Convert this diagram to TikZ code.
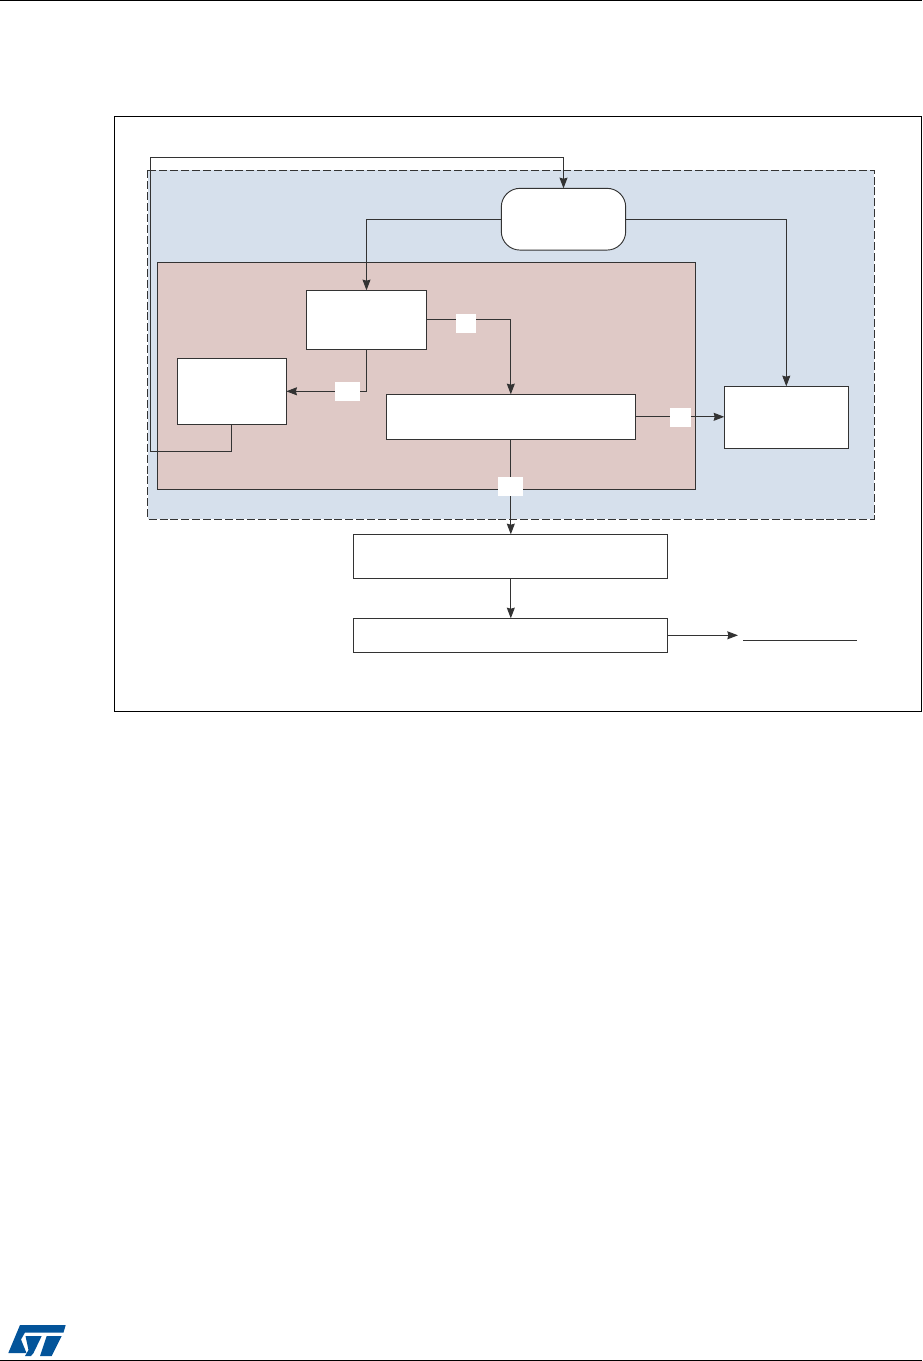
\documentclass[tikz,border=0pt]{standalone}
\usetikzlibrary{arrows.meta}
\definecolor{ln}{HTML}{333333}
\definecolor{bluefill}{HTML}{D6E0EC}
\definecolor{pinkfill}{HTML}{DFC9C6}
\definecolor{stblue}{HTML}{03549A}
\tikzset{
  pxbox/.style={draw=ln,line width=0.7pt,fill=white,inner sep=0pt,outer sep=0pt},
  conn/.style={draw=ln,line width=0.7pt},
  arr/.style={conn,-{Stealth[length=8pt,width=6pt,inset=0.8pt,color=ln]}},
  tag/.style={fill=white,inner sep=0pt,outer sep=0pt}
}
\begin{document}
\begin{tikzpicture}[x=0.75pt,y=-0.75pt]
\useasboundingbox (0,0) rectangle (922,1361);
\fill[white] (0,0) rectangle (922,1361);
% page rules
\draw[black,line width=0.75pt] (0,0.5) -- (922,0.5);
\draw[black,line width=0.75pt] (0,1360.3) -- (922,1360.3);
% outer frame
\draw[black,line width=0.75pt] (114.5,116.3) rectangle (921.7,711.3);
% regions
\draw[ln,fill=bluefill,line width=0.7pt,dash pattern=on 6pt off 2.2pt] (147.7,170.3) rectangle (874.3,519.3);
\draw[ln,fill=pinkfill,line width=0.7pt] (157.7,262.3) rectangle (695.3,489.3);
% boxes
\node[pxbox,rounded corners=14pt,minimum width=93.3pt,minimum height=46.3pt] (ctl) at (563.5,219.2) {};
\node[pxbox,minimum width=89.7pt,minimum height=44.25pt] (a) at (366.5,319.8) {};
\node[pxbox,minimum width=81.75pt,minimum height=49.5pt] (b) at (231.8,391.3) {};
\node[pxbox,minimum width=186.75pt,minimum height=33.75pt] (c) at (510.8,416.8) {};
\node[pxbox,minimum width=93pt,minimum height=46.5pt] (d) at (786.3,417.3) {};
\node[pxbox,minimum width=235.5pt,minimum height=33pt] (e) at (510.8,556.3) {};
\node[pxbox,minimum width=235.5pt,minimum height=25.5pt] (f) at (510.8,635.3) {};
% corner coordinates
\coordinate (fbA) at (b.south |- 0,451.3);
\coordinate (fbB) at (150.3,451.3);
\coordinate (fbC) at (150.3,157.3);
\coordinate (fbD) at (ctl.north |- 0,157.3);
\coordinate (out) at (738,635.3);
% connectors
\draw[arr] (b.south) -- (fbA) -- (fbB) -- (fbC) -- (fbD) -- (ctl.north);
\draw[arr] (ctl.west) -- (a.north |- ctl.west) -- (a.north);
\draw[arr] (ctl.east) -- (d.north |- ctl.east) -- (d.north);
\draw[arr] (a.east) -- (c.north |- a.east) -- (c.north);
\draw[arr] (a.south) -- (a.south |- b.east) -- (b.east);
\draw[arr] (c.east) -- (d.west |- c.east);
\draw[arr] (c.south) -- (e.north);
\draw[arr] (e.south) -- (f.north);
\draw[arr] (f.east) -- (out);
% white label patches
\node[tag,minimum width=15pt,minimum height=14.25pt] (t1) at (466,323.5) {};
\node[tag,minimum width=18.75pt,minimum height=14.25pt] (t2) at (347.5,391.5) {};
\node[tag,minimum width=15.75pt,minimum height=14.25pt] (t3) at (680.5,417.5) {};
\node[tag,minimum width=18.75pt,minimum height=14.25pt] (t4) at (510.6,486.5) {};
% underline of the output label
\coordinate (ulA) at (743.4,640.3);
\coordinate (ulB) at (857.2,640.3);
\draw[conn] (ulA) -- (ulB);
% logo
\fill[stblue] (20,1325) -- (65.7,1325) -- (63.5,1332.5) -- (25,1332.5) -- (21,1339.5) -- (26.5,1353) -- (8.3,1353) -- cycle;
\fill[stblue] (25.5,1336) -- (41.7,1336) -- (33.5,1353) -- (31,1356) -- (25,1356) -- (28.5,1350) -- cycle;
\fill[stblue] (46.7,1336) -- (61.7,1336) -- (51.7,1356) -- (40,1356) -- cycle;
\end{tikzpicture}
\end{document}
